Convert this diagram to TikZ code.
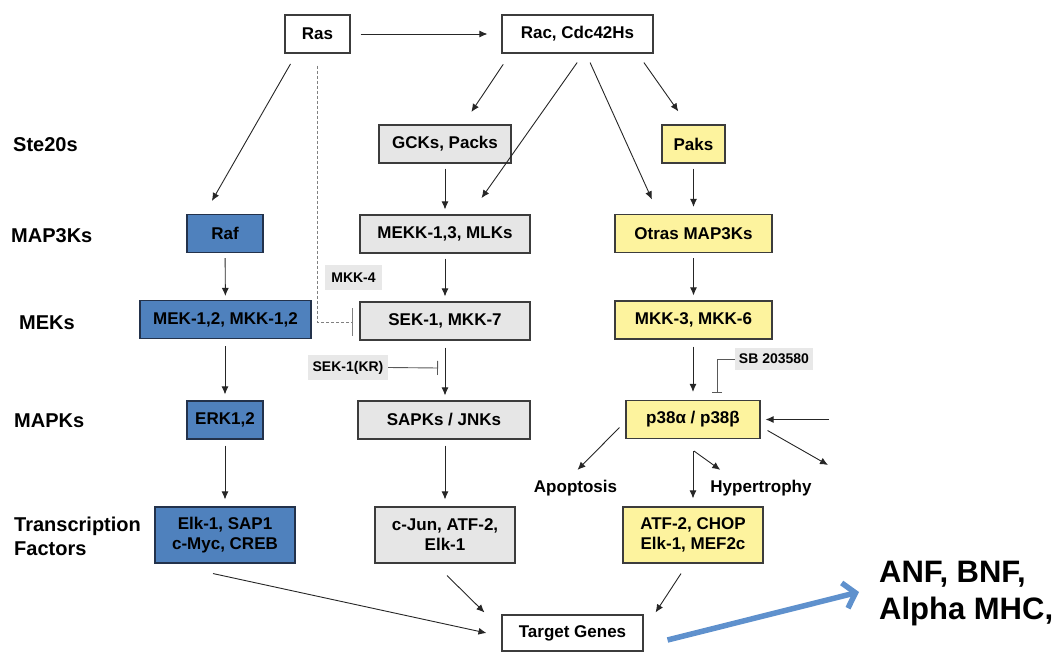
\documentclass[tikz,border=0pt]{standalone}
\usepackage{fontspec}
\setmainfont{Liberation Sans}
\usetikzlibrary{arrows.meta,calc}
\definecolor{boxblue}{RGB}{79,129,189}
\definecolor{blueborder}{RGB}{35,50,75}
\definecolor{boxgray}{RGB}{230,230,230}
\definecolor{boxyellow}{RGB}{253,243,158}
\definecolor{lblgray}{RGB}{232,232,232}
\definecolor{darkline}{RGB}{60,60,60}
\definecolor{bigarrow}{RGB}{95,145,205}
\tikzset{
  box/.style={draw=darkline, line width=1.1pt, minimum height=38pt, inner sep=0pt,
    font=\bfseries\fontsize{17}{20}\selectfont, align=center},
  bluebox/.style={box, fill=boxblue, draw=blueborder},
  graybox/.style={box, fill=boxgray},
  yellowbox/.style={box, fill=boxyellow},
  whitebox/.style={box, fill=white},
  lbl/.style={fill=lblgray, inner sep=0pt, font=\bfseries\fontsize{14}{16}\selectfont},
  plain/.style={inner sep=0pt, font=\bfseries\fontsize{17}{20}\selectfont},
  rowlbl/.style={anchor=west, inner sep=0pt, align=left, font=\bfseries\fontsize{20}{24}\selectfont},
  arr/.style={-{Latex[length=8pt,width=7pt]}, line width=0.9pt, draw=black!85},
  inh/.style={line width=0.9pt, draw=black!65},
  bluearr/.style={-{Straight Barb[length=11pt,width=26pt,line width=5.5pt]}, line width=5.5pt, draw=bigarrow}
}
\begin{document}
\begin{tikzpicture}[x=1pt,y=-1pt]
\useasboundingbox (0,0) rectangle (1062,652);
% row labels
\node[rowlbl] (l1) at (13,145) {Ste20s};
\node[rowlbl] (l2) at (11,236) {MAP3Ks};
\node[rowlbl] (l3) at (19,323) {MEKs};
\node[rowlbl] (l4) at (14,421) {MAPKs};
\node[rowlbl] (l5) at (14,536) {Transcription\\Factors};
% boxes
\node[whitebox, minimum width=65pt] (ras) at (317.5,34) {Ras};
\node[whitebox, minimum width=151pt] (rac) at (577.5,34) {Rac, Cdc42Hs};
\node[graybox, minimum width=132pt] (gck) at (445,144) {GCKs, Packs};
\node[yellowbox, minimum width=63pt] (paks) at (693.5,144) {Paks};
\node[bluebox, minimum width=76pt] (raf) at (225,233.5) {Raf};
\node[graybox, minimum width=170pt] (mekk) at (445,234) {MEKK-1,3, MLKs};
\node[yellowbox, minimum width=157pt] (otras) at (693.5,233.5) {Otras MAP3Ks};
\node[bluebox, minimum width=171pt] (mek) at (225.5,319.5) {MEK-1,2, MKK-1,2};
\node[graybox, minimum width=170pt] (sek) at (445,321) {SEK-1, MKK-7};
\node[yellowbox, minimum width=157pt] (mkk3) at (693.5,320) {MKK-3, MKK-6};
\node[bluebox, minimum width=76pt] (erk) at (225,420) {ERK1,2};
\node[graybox, minimum width=172pt] (sapk) at (444,420) {SAPKs / JNKs};
\node[yellowbox, minimum width=134pt] (p38) at (693,419.5) {p38α / p38β};
\node[bluebox, minimum width=140pt, minimum height=56pt] (elk) at (225,535) {Elk-1, SAP1\\c-Myc, CREB};
\node[graybox, minimum width=140pt, minimum height=56pt] (cjun) at (445,535) {c-Jun, ATF-2,\\Elk-1};
\node[yellowbox, minimum width=140pt, minimum height=56pt] (atf) at (693,535) {ATF-2, CHOP\\Elk-1, MEF2c};
\node[whitebox, minimum width=141pt, minimum height=36pt] (target) at (572.5,633) {Target Genes};
% small labels
\node[lbl, minimum width=57pt, minimum height=25pt] (mkk4) at (353.5,277.5) {MKK-4};
\node[lbl, minimum width=80pt, minimum height=25pt] (kr) at (348,367.5) {SEK-1(KR)};
\node[lbl, minimum width=78pt, minimum height=22pt] (sb) at (774,359) {SB 203580};
\node[plain] (apop) at (575.5,488) {Apoptosis};
\node[plain] (hyper) at (761,488) {Hypertrophy};
\node[anchor=west, inner sep=0pt, align=left, font=\bfseries\fontsize{31}{37}\selectfont] (anf) at (879,594) {ANF, BNF,\\Alpha MHC,};
% coordinates for free ends
\coordinate (krend) at (438,368);
\coordinate (sbend) at (717,393);
\coordinate (mkend) at (353,322);
\coordinate (inr) at (829,419.5);
\coordinate (outr) at (828,465);
% top arrows
\draw[arr, shorten <=10pt, shorten >=14pt] (ras) -- (rac);
\draw[arr, shorten <=12pt, shorten >=15pt] ([xshift=12pt]ras.south west) -- ([xshift=18pt]raf.north west);
\draw[arr, shorten <=13pt, shorten >=15pt] ([xshift=9pt]rac.south west) -- ([xshift=18pt]gck.north);
\draw[arr, shorten <=11pt, shorten >=20pt] ([xshift=6pt]rac.south) -- ([xshift=25pt]mekk.north);
\draw[arr, shorten <=10pt, shorten >=16pt] ([xshift=8.5pt]rac.south) -- ([xshift=-35pt]otras.north);
\draw[arr, shorten <=11pt, shorten >=16pt] ([xshift=-16pt]rac.south east) -- ([xshift=-6pt]paks.north);
% vertical cascades
\draw[arr, shorten <=5pt, shorten >=5pt] (gck) -- (mekk);
\draw[arr, shorten <=5pt, shorten >=7pt] (paks) -- (otras);
\draw[arr, shorten <=5pt, shorten >=4pt] (raf) -- (mek);
\draw[arr, shorten <=5pt, shorten >=5pt] (mekk) -- (sek);
\draw[arr, shorten <=5pt, shorten >=5pt] (otras) -- (mkk3);
\draw[arr, shorten <=7pt, shorten >=6pt] (mek.south -| erk) -- (erk);
\draw[arr, shorten <=7pt, shorten >=5pt] (sek) -- (sek |- sapk.north);
\draw[arr, shorten <=7pt, shorten >=8pt] (mkk3.south -| p38) -- (p38);
\draw[arr, shorten <=6pt, shorten >=7pt] (erk) -- (elk);
\draw[arr, shorten <=6pt, shorten >=7pt] (sapk.south -| cjun) -- (cjun);
\draw[arr, shorten <=12pt, shorten >=8pt] (p38.south -| atf) -- (atf);
% inhibitions
\draw[inh, gray, dashed, dash pattern=on 3pt off 2pt, -{Bar[width=28pt]}] ([yshift=-12pt]ras.south) |- (mkend);
\draw[inh, -{Bar[width=14pt]}] (kr.east) -- (krend);
\draw[inh, -{Bar[width=10pt]}] (sb.west) -| (sbend);
% p38 outputs
\draw[arr] (inr) -- ([xshift=5pt]p38.east);
\draw[arr] ([xshift=7pt,yshift=-11pt]p38.east) -- (outr);
\draw[arr] ([xshift=-6pt,yshift=-8pt]p38.west) -- ([xshift=2pt,yshift=10pt]apop.north);
\draw[arr] ([xshift=1pt,yshift=-12pt]p38.south) -- ([xshift=10pt,yshift=10pt]hyper.north west);
% to target genes
\draw[arr] ([xshift=-12pt,yshift=-10pt]elk.south) -- ([xshift=-15pt]target.west);
\draw[arr] ([xshift=2pt,yshift=-12pt]cjun.south) -- ([xshift=-17pt,yshift=2pt]target.north west);
\draw[arr] ([xshift=-12pt,yshift=-10pt]atf.south) -- ([xshift=12pt,yshift=2pt]target.north east);
% big blue arrow
\draw[bluearr] ([xshift=24pt,yshift=-7pt]target.east) -- ([xshift=-20pt,yshift=2pt]anf.west);
\end{tikzpicture}
\end{document}
